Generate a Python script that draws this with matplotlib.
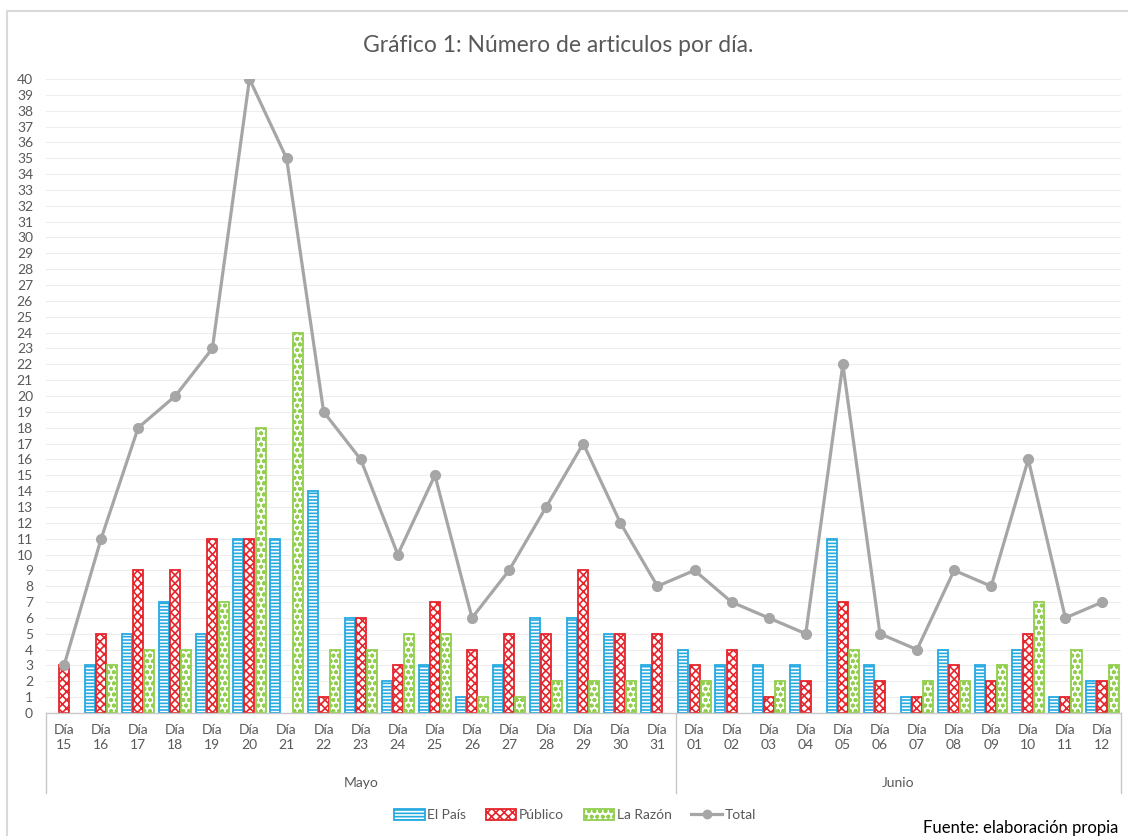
import numpy as np
import matplotlib
matplotlib.use("Agg")
import matplotlib.pyplot as plt
from matplotlib.patches import Patch
from matplotlib.lines import Line2D

plt.rcParams['font.family'] = ['Lato', 'DejaVu Sans']
plt.rcParams['hatch.linewidth'] = 1.2

# data
days = ["15", "16", "17", "18", "19", "20", "21", "22", "23", "24", "25", "26",
        "27", "28", "29", "30", "31",
        "01", "02", "03", "04", "05", "06", "07", "08", "09", "10", "11", "12"]
months = ["Mayo", "Junio"]
month_sizes = [17, 12]
el_pais = [0, 3, 5, 7, 5, 11, 11, 14, 6, 2, 3, 1, 3, 6, 6, 5, 3,
           4, 3, 3, 3, 11, 3, 1, 4, 3, 4, 1, 2]
publico = [3, 5, 9, 9, 11, 11, 0, 1, 6, 3, 7, 4, 5, 5, 9, 5, 5,
           3, 4, 1, 2, 7, 2, 1, 3, 2, 5, 1, 2]
la_razon = [0, 3, 4, 4, 7, 18, 24, 4, 4, 5, 5, 1, 1, 2, 2, 2, 0,
            2, 0, 2, 0, 4, 0, 2, 2, 3, 7, 4, 3]
total = [3, 11, 18, 20, 23, 40, 35, 19, 16, 10, 15, 6, 9, 13, 17, 12, 8,
         9, 7, 6, 5, 22, 5, 4, 9, 8, 16, 6, 7]

blue = '#25aae1'
red = '#e5242b'
green = '#92cf4f'
gray = '#a6a6a6'
txt = '#595959'

W, H = 1128, 836
fig = plt.figure(figsize=(W / 100, H / 100), dpi=100)
ax = fig.add_axes([45.5 / W, 1 - 713 / H, (1121 - 45.5) / W, (713 - 79) / H])

x = np.arange(len(days))
bw = 0.27
off = 0.3


def widths(vals):
    # no outline for empty bars
    return [1.3 if v else 0 for v in vals]


# El País: blue with white stripes
ax.bar(x - off, el_pais, bw, color=blue, edgecolor='white', hatch='-----', lw=0, zorder=2)
ax.bar(x - off, el_pais, bw, fill=False, edgecolor=blue, lw=widths(el_pais), zorder=2)
# Público: red zigzag
ax.bar(x, publico, bw, facecolor='white', edgecolor=red, hatch='xxxx',
       lw=widths(publico), zorder=2)
# La Razón: green dots
ax.bar(x + off, la_razon, bw, facecolor='white', edgecolor=green, hatch='ooo',
       lw=widths(la_razon), zorder=2)
# Total
ax.plot(x, total, color=gray, lw=2.3, marker='o', ms=7, zorder=3)

ax.set_xlim(-0.5, len(days) - 0.5)
ax.set_ylim(0, 40)
ax.set_yticks(range(0, 41))
ax.tick_params(axis='y', length=0, pad=9, labelsize=10, labelcolor=txt)
ax.set_xticks(x)
ax.set_xticklabels([f"Día\n{d}" for d in days], linespacing=1.25)
ax.tick_params(axis='x', length=0, pad=8, labelsize=10, labelcolor=txt)
ax.grid(axis='y', color='#ededed', lw=0.8, zorder=0)
ax.set_axisbelow(True)
for s in ['left', 'right', 'top']:
    ax.spines[s].set_visible(False)
ax.spines['bottom'].set_color('#c8c8c8')
ax.spines['bottom'].set_linewidth(1)

# month row and group separators
trans = ax.get_xaxis_transform()
start = -0.5
ax.plot([start, start], [0, -80 / 634], color='#c8c8c8', lw=1, transform=trans, clip_on=False)
for m, n in zip(months, month_sizes):
    end = start + n
    ax.plot([end, end], [0, -80 / 634], color='#c8c8c8', lw=1, transform=trans, clip_on=False)
    ax.text((start + end) / 2, -70 / 634, m, transform=trans, ha='center', va='center',
            fontsize=10, color=txt)
    start = end

fig.text(558 / W, 1 - 45 / H, "Gráfico 1: Número de articulos por día.",
         ha='center', va='center', fontsize=16.5, color=txt)

h_pais = (Patch(facecolor=blue, edgecolor='white', hatch='-----', lw=0),
          Patch(fill=False, edgecolor=blue, lw=1.3))
h_pub = Patch(facecolor='white', edgecolor=red, hatch='xxxx', lw=1.3)
h_raz = Patch(facecolor='white', edgecolor=green, hatch='ooo', lw=1.3)
h_tot = Line2D([], [], color=gray, lw=2.3, marker='o', ms=6)
fig.legend([h_pais, h_pub, h_raz, h_tot], ["El País", "Público", "La Razón", "Total"],
           loc='center', bbox_to_anchor=(575 / W, 1 - 815 / H), ncol=4, frameon=False,
           fontsize=10, labelcolor=txt, handlelength=2.2, handletextpad=0.2,
           columnspacing=1.4, handleheight=0.8)

fig.text(1118 / W, 1 - 828 / H, "Fuente: elaboración propia", ha='right', va='center',
         fontsize=12, color='black')

# outer chart border
fig.add_artist(Line2D([7 / W, 7 / W, 1], [0, 1 - 11 / H, 1 - 11 / H],
                      transform=fig.transFigure, color='#d9d9d9', lw=1.5))

fig.savefig("out.png", dpi=100)
